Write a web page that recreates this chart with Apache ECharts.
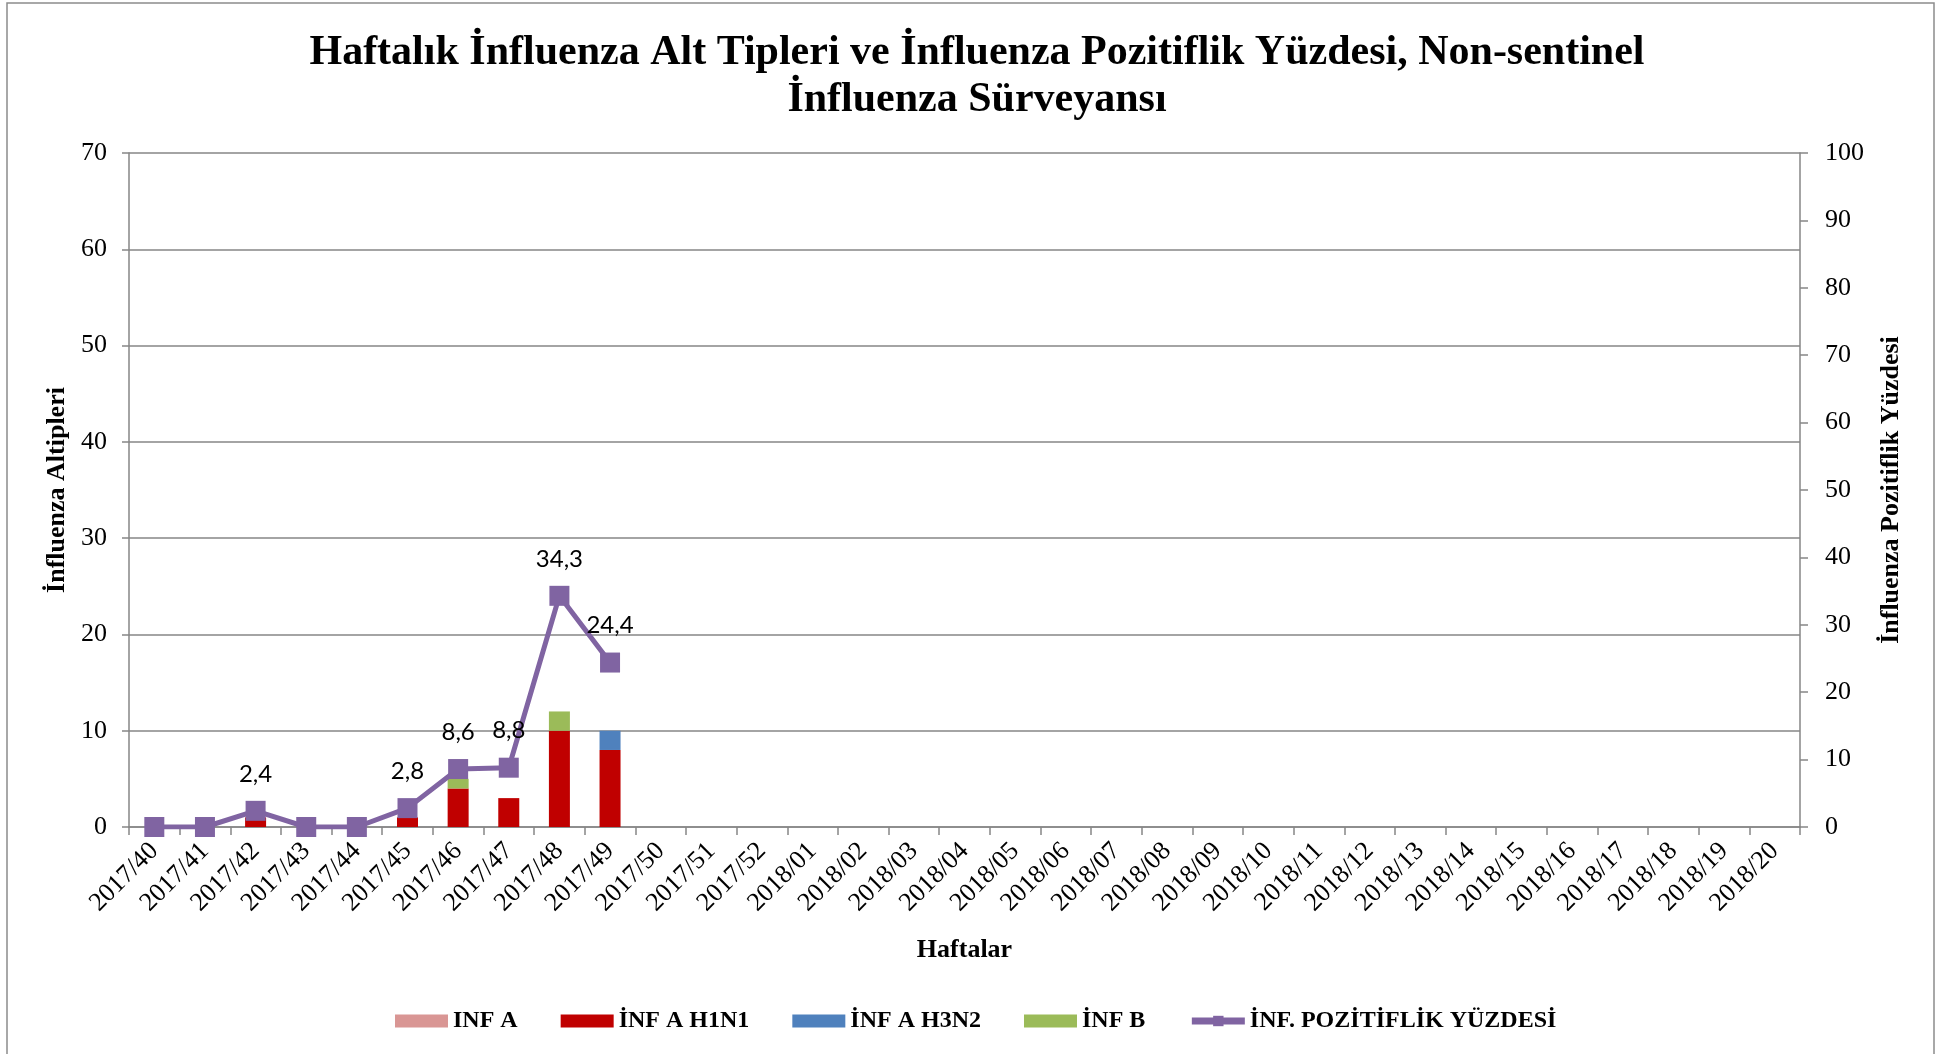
<!DOCTYPE html>
<html>
<head>
<meta charset="utf-8">
<script src="https://cdn.jsdelivr.net/npm/echarts@6/dist/echarts.min.js"></script>
<style>html,body{margin:0;padding:0;background:#fff}#c{width:1957px;height:1054px}</style>
</head>
<body>
<div id="c"></div>
<script>
const weeks = ['2017/40','2017/41','2017/42','2017/43','2017/44','2017/45','2017/46','2017/47','2017/48','2017/49','2017/50','2017/51','2017/52','2018/01','2018/02','2018/03','2018/04','2018/05','2018/06','2018/07','2018/08','2018/09','2018/10','2018/11','2018/12','2018/13','2018/14','2018/15','2018/16','2018/17','2018/18','2018/19','2018/20'];
const infA    = [0,0,0,0,0,0,0,0,0,0];
const infH1N1 = [0,0,1,0,0,1,4,3,10,8];
const infH3N2 = [0,0,0,0,0,0,0,0,0,2];
const infB    = [0,0,0,0,0,0,1,0,2,0];
const positivity = [0,0,2.4,0,0,2.8,8.6,8.8,34.3,24.4];
const leftTicks = {min:0, max:70, interval:10};
const rightTicks = {min:0, max:100, interval:10};

const serif = 'Liberation Serif';
const gray = '#868686';
const chart = echarts.init(document.getElementById('c'));
const barCommon = {type:'bar', stack:'s', barWidth:21, yAxisIndex:0};
chart.setOption({
  animation:false,
  backgroundColor:'#fff',
  graphic:[{type:'rect', shape:{x:7, y:3, width:1927, height:1070}, style:{fill:'none', stroke:'#8c8c8c', lineWidth:1.5}, z:-1}],
  title:{
    text:'Haftalık İnfluenza Alt Tipleri ve İnfluenza Pozitiflik Yüzdesi, Non-sentinel\nİnfluenza Sürveyansı',
    left:972, top:25, textAlign:'center',
    textStyle:{fontFamily:serif, fontWeight:'bold', fontSize:42, lineHeight:47, color:'#000'}
  },
  legend:{
    left:390, top:1004, itemWidth:53, itemHeight:13, itemGap:43,
    textStyle:{fontFamily:serif, fontWeight:'bold', fontSize:24, color:'#000'},
    data:[
      {name:'INF A', icon:'rect'},
      {name:'İNF A H1N1', icon:'rect'},
      {name:'İNF A H3N2', icon:'rect'},
      {name:'İNF B', icon:'rect'},
      {name:'İNF. POZİTİFLİK YÜZDESİ', lineStyle:{width:7}}
    ]
  },
  grid:{left:129, right:157, top:153, bottom:227, containLabel:false},
  xAxis:{
    type:'category', data:weeks, boundaryGap:true,
    name:'Haftalar', nameLocation:'middle', nameGap:110,
    nameTextStyle:{fontFamily:serif, fontWeight:'bold', fontSize:26, color:'#000'},
    axisLine:{lineStyle:{color:gray, width:1.5}},
    axisTick:{show:true, interval:0, length:8, lineStyle:{color:gray, width:1.5}},
    axisLabel:{interval:0, rotate:45, margin:20, fontFamily:serif, fontSize:26, color:'#000'}
  },
  yAxis:[
    {type:'value', min:leftTicks.min, max:leftTicks.max, interval:leftTicks.interval, position:'left',
     name:'İnfluenza Altipleri', nameLocation:'middle', nameGap:58,
     nameTextStyle:{fontFamily:serif, fontWeight:'bold', fontSize:26, color:'#000'},
     axisLine:{show:true, lineStyle:{color:gray, width:1.5}},
     axisTick:{show:true, length:7, lineStyle:{color:gray, width:1.5}},
     axisLabel:{margin:22, fontFamily:serif, fontSize:26, color:'#000'},
     splitLine:{show:true, lineStyle:{color:gray, width:1.5}}},
    {type:'value', min:rightTicks.min, max:rightTicks.max, interval:rightTicks.interval, position:'right',
     name:'İnfluenza Pozitiflik Yüzdesi', nameLocation:'middle', nameGap:78, nameRotate:90,
     nameTextStyle:{fontFamily:serif, fontWeight:'bold', fontSize:26, color:'#000'},
     axisLine:{show:true, lineStyle:{color:gray, width:1.5}},
     axisTick:{show:true, length:8, lineStyle:{color:gray, width:1.5}},
     axisLabel:{margin:25, fontFamily:serif, fontSize:26, color:'#000'},
     splitLine:{show:false}}
  ],
  series:[
    Object.assign({name:'INF A', data:infA, itemStyle:{color:'#D99694'}}, barCommon),
    Object.assign({name:'İNF A H1N1', data:infH1N1, itemStyle:{color:'#C00000'}}, barCommon),
    Object.assign({name:'İNF A H3N2', data:infH3N2, itemStyle:{color:'#4F81BD'}}, barCommon),
    Object.assign({name:'İNF B', data:infB, itemStyle:{color:'#9BBB59'}}, barCommon),
    {name:'İNF. POZİTİFLİK YÜZDESİ', type:'line', yAxisIndex:1, data:positivity,
     symbol:'rect', symbolSize:20, lineStyle:{color:'#8064A2', width:5}, itemStyle:{color:'#8064A2'},
     label:{show:true, position:'top', distance:15, fontFamily:'Lato', fontSize:24, color:'#000',
       formatter:p => p.value === 0 ? '' : String(p.value).replace('.', ',')},
     z:5}
  ]
});
</script>
</body>
</html>
